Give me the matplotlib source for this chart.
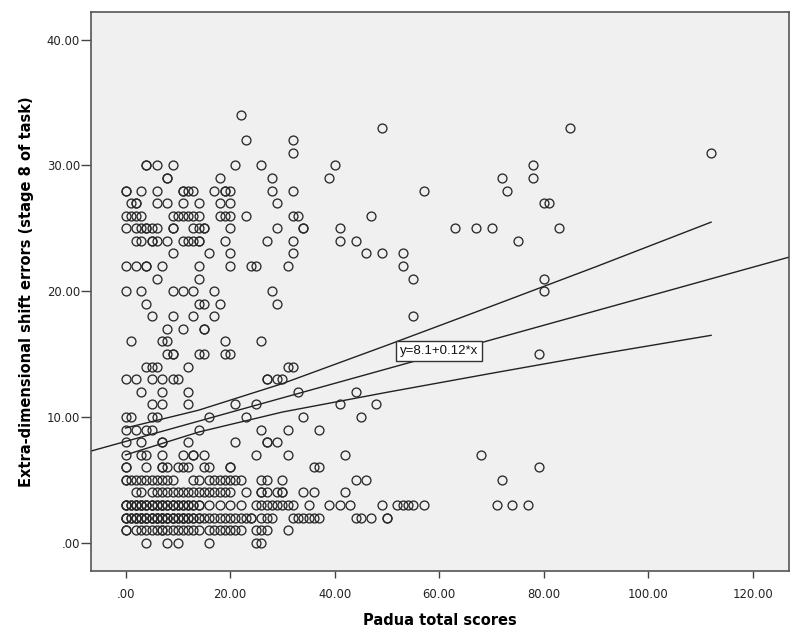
import matplotlib
matplotlib.use("Agg")
import matplotlib.pyplot as plt
from matplotlib.ticker import FuncFormatter

# ----- Daten: Padua-Score (x) je Fehleranzahl (y) -----
ed0 = [4, 8, 10, 16, 25, 26]
ed1 = [0, 0, 2, 3, 4, 5, 6, 7, 7, 8, 9, 10, 11, 12, 13, 14, 16, 17, 18, 19, 20, 21, 22,
       25, 26, 27, 31]
ed2 = [0, 0, 0, 1, 1, 2, 2, 2, 3, 3, 3, 4, 4, 4, 5, 5, 5, 6, 6, 6, 7, 7, 7, 8, 8, 8,
       9, 9, 9, 10, 10, 11, 11, 11, 12, 12, 13, 13, 14, 14, 15, 16, 17, 18, 19, 20, 21,
       22, 23, 24, 24, 26, 27, 28, 32, 33, 34, 35, 36, 37, 44, 45, 47, 50, 50]
ed3 = [0, 0, 0, 1, 1, 2, 2, 2, 3, 3, 3, 4, 4, 4, 5, 5, 5, 6, 6, 7, 7, 7, 8, 8, 9, 9, 9,
       10, 10, 11, 11, 12, 12, 13, 13, 14, 14, 16, 18, 20, 22, 25, 26, 27, 28, 29, 30,
       31, 32, 35, 39, 41, 43, 49, 52, 53, 54, 55, 57, 71, 74, 77]
ed4 = [2, 3, 5, 6, 7, 8, 9, 10, 11, 12, 13, 14, 15, 16, 17, 18, 19, 20, 23, 26, 26, 27,
       29, 30, 30, 34, 36, 42]
ed5 = [0, 0, 1, 2, 3, 4, 5, 6, 7, 8, 9, 13, 14, 16, 17, 18, 19, 20, 21, 22, 26, 27, 30, 44, 46, 72]
ed6 = [0, 0, 4, 7, 7, 8, 10, 11, 12, 15, 16, 20, 20, 36, 37, 79]
ed7 = [0, 3, 4, 7, 11, 13, 13, 15, 25, 31, 42, 68]
ed8 = [0, 3, 7, 7, 12, 21, 27, 27, 29]
ed9 = [0, 2, 4, 5, 14, 26, 31, 37]
ed10 = [0, 1, 5, 6, 16, 23, 34, 45]
ed11 = [5, 7, 12, 21, 25, 41, 48]
ed12 = [3, 7, 12, 33, 44]
ed13 = [0, 2, 5, 7, 9, 10, 27, 27, 29, 30]
ed14 = [4, 5, 6, 12, 31, 32]
ed15 = [8, 9, 9, 14, 15, 19, 20, 79]
ed16 = [1, 7, 8, 19, 26]
ed17 = [8, 11, 15, 15]
ed18 = [5, 9, 13, 17, 55]
ed19 = [4, 14, 15, 18, 29]
ed20 = [0, 3, 9, 11, 13, 17, 28, 80]
ed21 = [6, 14, 55, 80]
ed22 = [0, 2, 4, 4, 7, 14, 20, 24, 25, 31, 53]
ed23 = [9, 16, 20, 32, 46, 49, 53]
ed24 = [2, 3, 5, 5, 6, 8, 11, 12, 13, 14, 14, 19, 27, 32, 41, 44, 75]
ed25 = [0, 2, 3, 4, 4, 5, 6, 9, 9, 13, 14, 15, 15, 20, 29, 34, 34, 41, 63, 67, 70, 83]
ed26 = [0, 1, 2, 3, 9, 10, 11, 12, 13, 14, 18, 19, 20, 23, 32, 33, 47]
ed27 = [1, 2, 2, 6, 8, 11, 14, 18, 20, 29, 80, 81]
ed28 = [0, 0, 3, 6, 11, 11, 12, 13, 17, 19, 19, 20, 28, 32, 57, 73]
ed29 = [8, 8, 18, 28, 39, 72, 78]
ed30 = [4, 4, 6, 9, 21, 26, 40, 78]
ed31 = [32, 112]
ed32 = [23, 32]
ed33 = [49, 85]
ed34 = [22]

rows = [ed0, ed1, ed2, ed3, ed4, ed5, ed6, ed7, ed8, ed9, ed10, ed11, ed12, ed13, ed14,
        ed15, ed16, ed17, ed18, ed19, ed20, ed21, ed22, ed23, ed24, ed25, ed26, ed27,
        ed28, ed29, ed30, ed31, ed32, ed33, ed34]
padua = [x for row in rows for x in row]
errors = [yv for yv, row in enumerate(rows) for _ in row]

# Regressionsgerade und 95%-KI (Mittelwert)
b0, b1 = 8.05, 0.1155
ci_x = [0, 14, 30, 50, 70, 90, 112]
ci_upper = [9.12, 10.54, 12.65, 15.70, 18.81, 21.95, 25.49]
ci_lower = [6.98, 8.80, 10.39, 11.96, 13.47, 14.95, 16.49]
eq_label = "y=8.1+0.12*x"

xticks = [0, 20, 40, 60, 80, 100, 120]
yticks = [0, 10, 20, 30, 40]

fig = plt.figure(figsize=(8, 6.36), dpi=100)
ax = fig.add_axes([0.11375, 0.1022, 0.8725, 0.8789])
ax.set_facecolor("#f0f0f0")

ax.plot(padua, errors, linestyle="none", marker="o", ms=6.4, mfc="none",
        mec="#2a2a2a", mew=0.95, zorder=3)

ax.axline((0, b0), slope=b1, color="#222222", lw=1.0, zorder=2)
ax.plot(ci_x, ci_upper, color="#222222", lw=1.0, zorder=2)
ax.plot(ci_x, ci_lower, color="#222222", lw=1.0, zorder=2)

ax.text(60, b0 + b1 * 60 + 0.3, eq_label, ha="center", va="center",
        family="Liberation Sans", fontsize=9.5, color="#111111", zorder=4,
        bbox=dict(boxstyle="square,pad=0.3", fc="white", ec="#333333", lw=1.0))

ax.set_xlim(-6.6, 126.9)
ax.set_ylim(-2.25, 42.2)
ax.set_xticks(xticks)
ax.set_yticks(yticks)

fmt = FuncFormatter(lambda v, p: f"{v:.2f}"[1:] if f"{v:.2f}".startswith("0") else f"{v:.2f}")
ax.xaxis.set_major_formatter(fmt)
ax.yaxis.set_major_formatter(fmt)
ax.tick_params(axis="x", length=5, width=1, pad=7, labelsize=8.4, color="#444444",
               labelcolor="#222222")
ax.tick_params(axis="y", length=7, width=1, pad=1, labelsize=8.4, color="#444444",
               labelcolor="#222222")
ax.tick_params(top=False, right=False)

for s in ax.spines.values():
    s.set_color("#555555")
    s.set_linewidth(1.2)

ax.set_xlabel("Padua total scores", fontsize=10.5, fontweight="bold", va="center")
ax.set_ylabel("Extra-dimensional shift errors (stage 8 of task)", fontsize=10.5,
              fontweight="bold", va="center")
ax.xaxis.set_label_coords(0.5, -0.088)
ax.yaxis.set_label_coords(-0.092, 0.5)

plt.savefig("out.png", dpi=100)
